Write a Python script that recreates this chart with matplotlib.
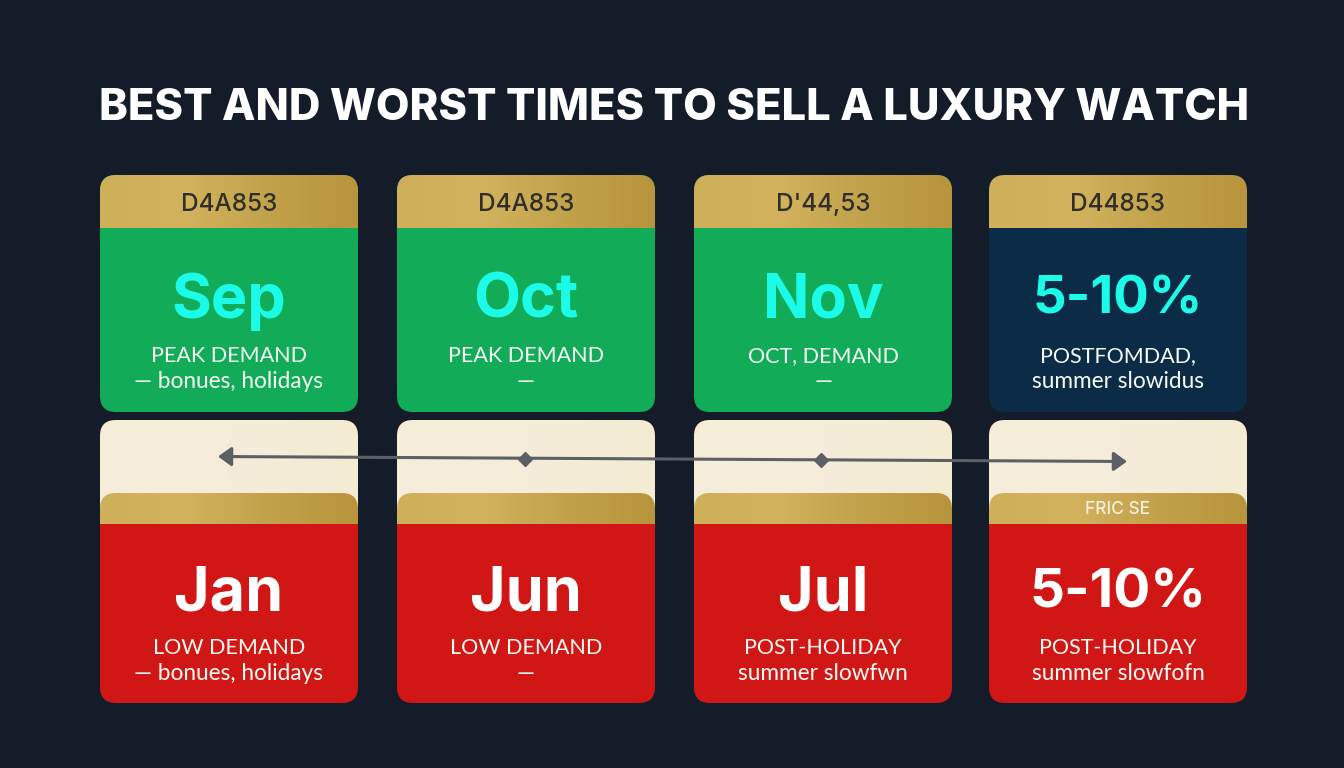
import numpy as np
import matplotlib
matplotlib.use("Agg")
import matplotlib.pyplot as plt
from matplotlib.colors import LinearSegmentedColormap
from matplotlib.patches import FancyBboxPatch, Rectangle

title = "BEST AND WORST TIMES TO SELL A LUXURY WATCH"

top_headers = ["D4A853", "D4A853", "D'44,53", "D44853"]
top_values = ["Sep", "Oct", "Nov", "5-10%"]
top_line1 = ["PEAK DEMAND", "PEAK DEMAND", "OCT, DEMAND", "POSTFOMDAD,"]
top_line2 = ["— bonues, holidays", "—", "—", "summer slowidus"]
top_colors = ["#12AC58", "#12AC58", "#12AC58", "#0C2B47"]

bottom_headers = ["", "", "", "FRIC SE"]
bottom_values = ["Jan", "Jun", "Jul", "5-10%"]
bottom_line1 = ["LOW DEMAND", "LOW DEMAND", "POST-HOLIDAY", "POST-HOLIDAY"]
bottom_line2 = ["— bonues, holidays", "—", "summer slowfwn", "summer slowfofn"]

card_left = [100, 397, 694, 989]
card_width = 258

FONT = "Lato"
BG = "#141C29"
CYAN = "#1CFBE8"
RED = "#D11715"
gold = LinearSegmentedColormap.from_list("gold", ["#CFB05A", "#D2B25C", "#C2A14B", "#B8953C"])
cream = LinearSegmentedColormap.from_list("cream", ["#F5EDD9", "#F5EDD9", "#F3EBD2"])
grad = np.linspace(0, 1, 256).reshape(1, -1)

fig = plt.figure(figsize=(13.44, 7.68), dpi=100, facecolor=BG)
ax = fig.add_axes([0, 0, 1, 1])
ax.set_xlim(0, 1344)
ax.set_ylim(768, 0)
ax.axis("off")


def rounded(x, y, w, h, r, **kw):
    patch = FancyBboxPatch((x + r, y + r), w - 2 * r, h - 2 * r,
                           boxstyle="round,pad=%d,rounding_size=%d" % (r, r),
                           linewidth=0, **kw)
    ax.add_patch(patch)
    return patch


def gradient(x, y, w, h, cmap, clip):
    im = ax.imshow(grad, cmap=cmap, extent=(x, x + w, y + h, y), aspect="auto",
                   interpolation="bilinear", zorder=2)
    im.set_clip_path(clip)
    return im


def card_text(cx, header, header_y, header_color, header_size, value, value_color, value_y, percent_size,
              line1, line2, line1_y):
    if header:
        ax.text(cx, header_y, header, color=header_color, fontsize=header_size, ha="center",
                va="center", family="Inter", fontweight="medium", zorder=5)
    # percentage labels run wide in Inter, so they get a smaller size
    size = percent_size if "%" in value else 44
    ax.text(cx, value_y, value, color=value_color, fontsize=size, fontweight="bold", ha="center",
            va="center_baseline", family="Inter", zorder=5)
    ax.text(cx, line1_y, line1, color="#F6FBF6", fontsize=15.5, ha="center", va="center",
            family=FONT, zorder=5)
    ax.text(cx, line1_y + 26, line2, color="#F6FBF6", fontsize=16.3, ha="center", va="center",
            family=FONT, zorder=5)


ax.text(674, 108.5, title, color="white", fontsize=31.3, fontweight="heavy", ha="center",
        va="center", family="Inter", zorder=5)

for i, x in enumerate(card_left):
    cx = x + card_width / 2

    # top row
    body = rounded(x, 175, card_width, 237, 16, facecolor=top_colors[i], zorder=1)
    clip = rounded(x, 175, card_width, 237, 16, facecolor="none", zorder=0)
    gradient(x, 175, card_width, 53, gold, clip)
    card_text(cx, top_headers[i], 204.5, "#2F2E28", 17.5, top_values[i], CYAN, 295, 38,
              top_line1[i], top_line2[i], 356)

    # bottom row
    rounded(x, 420, card_width, 283, 16, facecolor=RED, zorder=1)
    clip = rounded(x, 420, card_width, 283, 16, facecolor="none", zorder=0)
    gradient(x, 420, card_width, 104, cream, clip)
    tab = rounded(x, 493, card_width, 60, 16, facecolor="none", zorder=0)
    gradient(x, 493, card_width, 31, gold, tab)
    ax.add_patch(Rectangle((x, 524), card_width, 40, facecolor=RED, linewidth=0, zorder=3))
    card_text(cx, bottom_headers[i], 510, "#F5F0E0", 12.5, bottom_values[i], "white", 588, 39.5,
              bottom_line1[i], bottom_line2[i], 648)

# arrow across the cream band
ax.annotate("", xy=(218, 456.5), xytext=(1127, 461.5), zorder=6,
            arrowprops=dict(arrowstyle="<|-|>,head_length=0.57,head_width=0.41", color="#5B5F66", lw=2.2,
                            mutation_scale=14, shrinkA=0, shrinkB=0))
ax.plot([525, 821], [458.5, 459.5], linestyle="none", marker="D", markersize=7,
        color="#5B5F66", zorder=7)

fig.savefig("out.png", dpi=100, facecolor=BG)
